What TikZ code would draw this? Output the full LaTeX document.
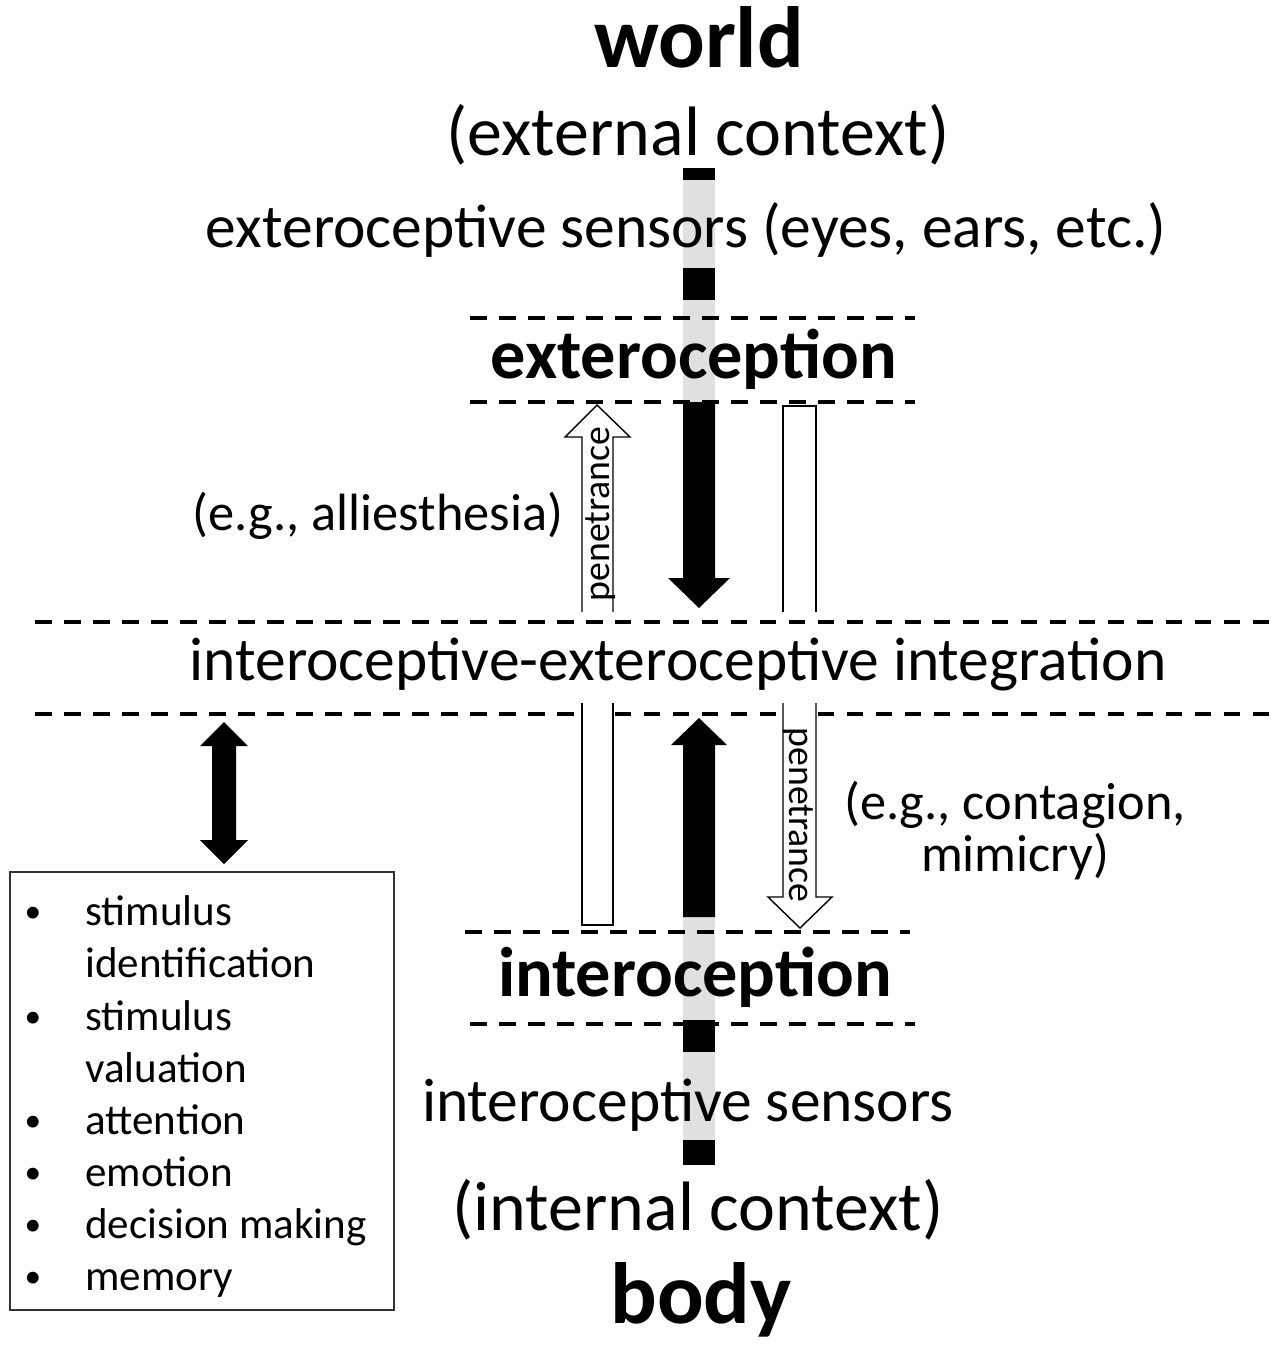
\documentclass[tikz,border=0pt]{standalone}
\usepackage{fontspec}
\setmainfont{Carlito}
\begin{document}
\begin{tikzpicture}[x=0.02cm,y=-0.02cm,
  dline/.style={line width=2.3pt, dash pattern=on 9.5pt off 7pt},
  bigbold/.style={font=\fontsize{49.5}{56}\selectfont\bfseries, anchor=base, inner sep=0pt},
  headbold/.style={font=\fontsize{40}{46}\selectfont\bfseries, anchor=base, inner sep=0pt},
  maintxt/.style={font=\fontsize{35}{40}\selectfont, anchor=base, inner sep=0pt},
  ctxtxt/.style={font=\fontsize{39.8}{46}\selectfont, anchor=base, inner sep=0pt},
  egtxt/.style={font=\fontsize{29.8}{36}\selectfont, anchor=base, inner sep=0pt},
  pentxt/.style={font=\fontsize{21.5}{26}\selectfont, inner sep=0pt},
  listtxt/.style={font=\fontsize{24.5}{30}\selectfont, anchor=base west, inner sep=0pt},
  bul/.style={font=\fontsize{19}{24}\selectfont, anchor=base, inner sep=0pt},
  whitearrow/.style={draw=black, fill=white, line width=0.8pt, line join=miter},
  blackarrow/.style={fill=black},
  barfill/.style={fill=black!12}
]
\useasboundingbox (0,0) rectangle (1274,1345);
\fill[white] (0,0) rectangle (1274,1345);

% vertical gray bars with black blocks
\fill[barfill] (683,168) rectangle (715,402);
\fill[barfill] (683,917) rectangle (715,1165);
\fill (683,168) rectangle (715,180);
\fill (683,268) rectangle (715,300);
\fill (683,1020) rectangle (715,1052);
\fill (683,1140) rectangle (715,1165);

% dashed separators
\draw[dline] (470,318) -- (915,318);
\draw[dline] (470,402) -- (915,402);
\draw[dline] (35,622) -- (1270,622);
\draw[dline] (35,714) -- (1270,714);
\draw[dline] (465,932) -- (910,932);
\draw[dline] (470,1024) -- (915,1024);

% texts
\node[bigbold] (world) at (699,68) {world};
\node[ctxtxt] (extctx) at (698,155) {(external context)};
\node[maintxt] (extsens) at (686,247) {exteroceptive sensors (eyes, ears, etc.)};
\node[headbold] (extero) at (694,378) {exteroception};
\node[egtxt] (alli) at (378,530) {(e.g., alliesthesia)};
\node[maintxt] (integ) at (678,680) {interoceptive-exteroceptive integration};
\node[egtxt] (contag) at (1015,819) {(e.g., contagion,};
\node[egtxt] (mimic) at (1015,871) {mimicry)};
\node[headbold] (intero) at (695,996) {interoception};
\node[maintxt] (intsens) at (688,1121) {interoceptive sensors};
\node[ctxtxt] (intctx) at (698,1230) {(internal context)};
\node[bigbold] (body) at (701,1323) {body};

% block arrows
\draw[whitearrow] (582,612) -- (582,437) -- (565,437) -- (597,405) -- (630,437) -- (613,437) -- (613,612);
\node[pentxt, rotate=90] (pen1) at (601,514) {penetrance};
\draw[whitearrow] (783,612) -- (783,406) -- (816,406) -- (816,612);
\draw[whitearrow] (582,703) -- (582,925) -- (613,925) -- (613,703);
\draw[whitearrow] (783,703) -- (783,897) -- (768,897) -- (800,928) -- (832,897) -- (816,897) -- (816,703);
\node[pentxt, rotate=-90] (pen2) at (798,815) {penetrance};
\fill[blackarrow] (683,402) -- (683,578) -- (668,578) -- (699,608) -- (730,578) -- (715,578) -- (715,402) -- cycle;
\fill[blackarrow] (683,917) -- (683,745) -- (671,745) -- (699,718) -- (727,745) -- (715,745) -- (715,917) -- cycle;
\fill[blackarrow] (224,722) -- (248,746) -- (236,746) -- (236,840) -- (248,840) -- (224,864) -- (200,840) -- (212,840) -- (212,746) -- (200,746) -- cycle;

% list box
\draw[line width=0.8pt, draw=black!80] (10,872) rectangle (394,1310);
\foreach \yy/\txt/\b in {925/stimulus/1, 977/identification/0, 1030/stimulus/1, 1082/valuation/0, 1134/attention/1, 1186/emotion/1, 1238/decision making/1, 1290/memory/1}{
  \node[listtxt] (li\yy) at (85,\yy) {\txt};
  \ifnum\b=1 \node[bul] (bu\yy) at (33,\yy-3) {•};\fi
}
\end{tikzpicture}
\end{document}
